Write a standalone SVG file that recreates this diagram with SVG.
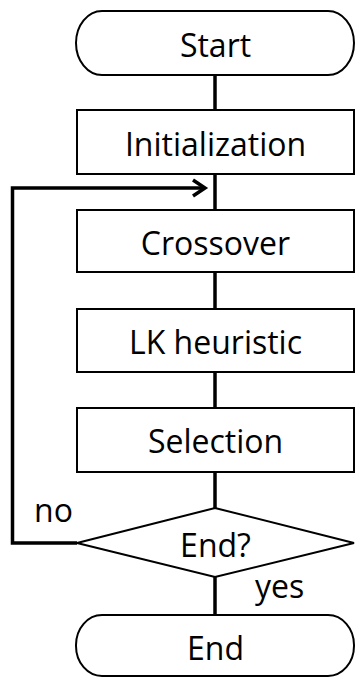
<svg xmlns="http://www.w3.org/2000/svg" width="355" height="677" viewBox="0 0 355 677">
<style>
.box{fill:#fff;stroke:#000;stroke-width:2}
.t{font-family:"Open Sans","Liberation Sans",sans-serif;font-size:32px;fill:#000;text-anchor:middle}
.l{font-family:"Open Sans","Liberation Sans",sans-serif;font-size:32px;fill:#000}
.c{fill:none;stroke:#000;stroke-width:3.5}
</style>
<rect width="355" height="677" fill="#fff"/>
<g id="connectors">
<line class="c" x1="215" y1="75" x2="215" y2="110"/>
<line class="c" x1="215" y1="174" x2="215" y2="210"/>
<line class="c" x1="215" y1="272" x2="215" y2="309"/>
<line class="c" x1="215" y1="372" x2="215" y2="408"/>
<line class="c" x1="215" y1="472" x2="215" y2="508"/>
<line class="c" x1="215" y1="577" x2="215" y2="615"/>
<polyline class="c" points="77,543 12.5,543 12.5,188 205,188"/>
<polyline class="c" points="193,180 205,188 193,196"/>
</g>
<g id="start">
<rect class="box" x="76" y="11" width="278" height="64" rx="26" ry="32"/>
<text class="t" x="215.5" y="57">Start</text>
</g>
<g id="init">
<rect class="box" x="77" y="110" width="277" height="64"/>
<text class="t" x="215.5" y="156">Initialization</text>
</g>
<g id="crossover">
<rect class="box" x="77" y="210" width="277" height="62"/>
<text class="t" x="215.5" y="255">Crossover</text>
</g>
<g id="lk">
<rect class="box" x="77" y="309" width="277" height="63"/>
<text class="t" x="215.5" y="354">LK heuristic</text>
</g>
<g id="selection">
<rect class="box" x="77" y="408" width="277" height="64"/>
<text class="t" x="215.5" y="453">Selection</text>
</g>
<g id="decision">
<polygon class="box" points="215,508 354,543 215,577 77,543"/>
<text class="t" x="215.5" y="557">End?</text>
</g>
<g id="end">
<rect class="box" x="76" y="615" width="278" height="61" rx="26" ry="30"/>
<text class="t" x="215.5" y="660">End</text>
</g>
<g id="labels">
<text class="l" x="34" y="522">no</text>
<text class="l" x="255" y="598">yes</text>
</g>
</svg>
